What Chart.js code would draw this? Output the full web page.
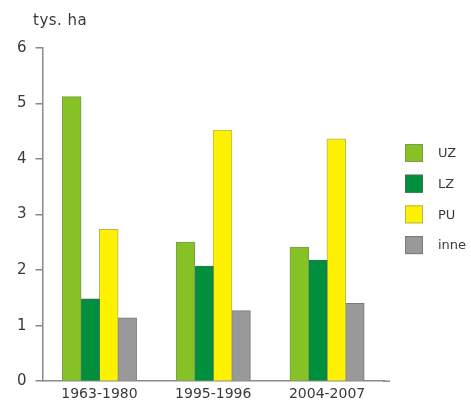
<!DOCTYPE html>
<html lang="pl">
  <head>
    <meta charset="UTF-8" />
    <title>tys. ha</title>
    <script src="https://cdn.jsdelivr.net/npm/chart.js"></script>
    <style>
      html, body { margin: 0; padding: 0; background: #fff; overflow: hidden; }
      #wrap { width: 471px; height: 401px; }
    </style>
  </head>
  <body>
    <div id="wrap">
      <canvas id="myChart" width="471" height="401"></canvas>
    </div>

    <script>
      // okresy i powierzchnia (tys. ha)
      const periods = ["1963-1980", "1995-1996", "2004-2007"];
      const seriesNames = ["UZ", "LZ", "PU", "inne"];
      const uz = [5.12, 2.5, 2.41];
      const lz = [1.48, 2.07, 2.18];
      const pu = [2.73, 4.52, 4.36];
      const inne = [1.14, 1.27, 1.4];
      const yTicks = [0, 1, 2, 3, 4, 5, 6];

      const fills = ["#86c226", "#008f3c", "#fff200", "#999999"];
      const borders = ["#7a9a50", "#3f6f4f", "#b8b45a", "#7a7a7a"];
      const axisColor = "#8a8a8a";
      const textColor = "#3a3a3a";
      const fontFamily = "'DejaVu Sans', sans-serif";

      // tytuł osi + legenda rysowane ręcznie
      const extras = {
        id: "extras",
        afterDraw(chart) {
          const ctx = chart.ctx;
          const area = chart.chartArea;
          ctx.save();

          // przedłużenie osi X w prawo
          ctx.strokeStyle = axisColor;
          ctx.lineWidth = 1.5;
          ctx.beginPath();
          ctx.moveTo(area.right - 1, area.bottom);
          ctx.lineTo(area.right + 6, area.bottom);
          ctx.stroke();

          // jednostka
          ctx.fillStyle = textColor;
          ctx.font = "15px " + fontFamily;
          ctx.letterSpacing = "0.5px";
          ctx.textAlign = "left";
          ctx.textBaseline = "alphabetic";
          ctx.fillText("tys. ha", 33, 25);
          ctx.letterSpacing = "0px";

          // legenda
          ctx.font = "13px " + fontFamily;
          ctx.textBaseline = "middle";
          chart.data.datasets.forEach((ds, i) => {
            const x = 405;
            const y = 144 + i * 30.7;
            ctx.fillStyle = ds.backgroundColor;
            ctx.fillRect(x, y, 18, 18);
            ctx.strokeStyle = ds.borderColor;
            ctx.lineWidth = 1;
            ctx.strokeRect(x + 0.5, y + 0.5, 17, 17);
            ctx.fillStyle = textColor;
            ctx.fillText(ds.label, x + 33, y + 10);
          });
          ctx.restore();
        },
      };

      function drawChart(tag) {
        const ctx = document.getElementById(tag);
        const values = [uz, lz, pu, inne];

        const data = {
          labels: periods,
          datasets: seriesNames.map((name, i) => ({
            label: name,
            data: values[i],
            backgroundColor: fills[i],
            borderColor: borders[i],
            borderWidth: 1,
            inflateAmount: 0.5,
            barPercentage: 1.0,
            categoryPercentage: 0.65,
          })),
        };

        const options = {
          responsive: false,
          animation: false,
          layout: { padding: { left: 8, right: 87, top: 48, bottom: -7 } },
          plugins: {
            legend: { display: false },
            tooltip: { enabled: false },
          },
          scales: {
            x: {
              grid: { display: false, drawTicks: false },
              border: { display: true, color: axisColor, width: 1.5 },
              ticks: {
                color: textColor,
                padding: 5,
                font: { family: fontFamily, size: 14 },
              },
            },
            y: {
              min: 0,
              max: 6,
              afterBuildTicks: (scale) => {
                scale.ticks = yTicks.map((v) => ({ value: v }));
              },
              grid: {
                drawOnChartArea: false,
                drawTicks: true,
                tickLength: 7,
                color: axisColor,
                lineWidth: 1.5,
              },
              border: { display: true, color: axisColor, width: 1.5 },
              ticks: {
                color: textColor,
                padding: 9,
                font: { family: fontFamily, size: 15 },
              },
            },
          },
        };

        new Chart(ctx, {
          type: "bar",
          data: data,
          options: options,
          plugins: [extras],
        });
      }
      drawChart("myChart");
    </script>
  </body>
</html>
